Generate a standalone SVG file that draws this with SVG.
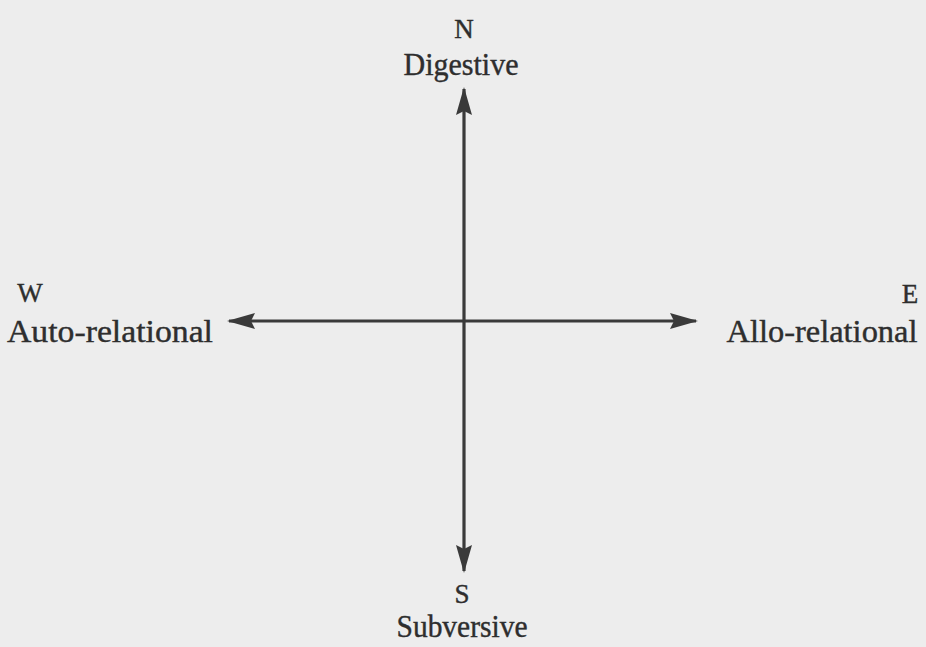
<svg xmlns="http://www.w3.org/2000/svg" width="926" height="647" viewBox="0 0 926 647">
<style>
.lbl{font-family:"Liberation Serif","Times New Roman",serif;fill:#2e2e2e;text-anchor:middle;stroke:#2e2e2e;stroke-width:0.4}
.big{font-size:31px}
.dir{font-size:27px}
.ax{stroke:#3a3a3a;stroke-width:3.2;fill:none}
</style>
<defs>
<marker id="ah" viewBox="0 0 28 16" refX="26" refY="8" markerWidth="28" markerHeight="16" markerUnits="userSpaceOnUse" orient="auto">
<path d="M0,0 L28,8 L0,16 L4,8 Z" fill="#3a3a3a"/>
</marker>
</defs>
<rect width="926" height="647" fill="#ededed"/>
<g id="connectors">
<line class="ax" x1="464" y1="321" x2="464" y2="89" marker-end="url(#ah)"/>
<line class="ax" x1="464" y1="321" x2="464" y2="571" marker-end="url(#ah)"/>
<line class="ax" x1="464" y1="321" x2="229" y2="321" marker-end="url(#ah)"/>
<line class="ax" x1="464" y1="321" x2="696" y2="321" marker-end="url(#ah)"/>
</g>
<g id="north">
<text class="lbl dir" x="464" y="38">N</text>
<text class="lbl big" x="461" y="75" textLength="115" lengthAdjust="spacingAndGlyphs">Digestive</text>
</g>
<g id="west">
<text class="lbl dir" x="30" y="302">W</text>
<text class="lbl big" x="110" y="342" textLength="206" lengthAdjust="spacingAndGlyphs">Auto-relational</text>
</g>
<g id="east">
<text class="lbl dir" x="910" y="303">E</text>
<text class="lbl big" x="822" y="342" textLength="191" lengthAdjust="spacingAndGlyphs">Allo-relational</text>
</g>
<g id="south">
<text class="lbl dir" x="462" y="603" font-size="26">S</text>
<text class="lbl big" x="462" y="637" textLength="131" lengthAdjust="spacingAndGlyphs">Subversive</text>
</g>
</svg>
